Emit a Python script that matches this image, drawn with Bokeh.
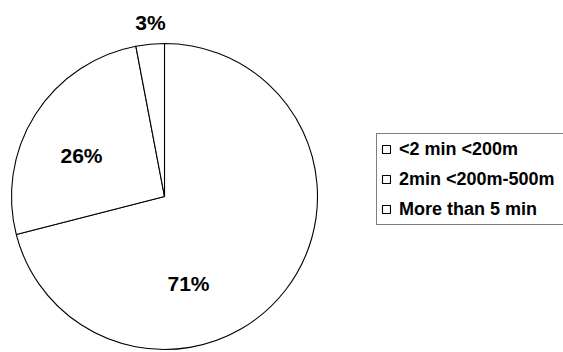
import numpy as np
from bokeh.plotting import figure
from bokeh.models import Range1d, Legend, LegendItem, ColumnDataSource
from bokeh.core.properties import value
from bokeh.embed import file_html
from bokeh.resources import INLINE

categories = ["<2 min <200m", "2min <200m-500m", "More than 5 min"]
shares = [71, 26, 3]
pct_labels = ["71%", "26%", "3%"]

W, H = 563, 352
p = figure(width=W, height=H, output_backend="svg", toolbar_location=None,
           x_range=Range1d(0, W), y_range=Range1d(0, H), min_border=0)
p.axis.visible = False
p.xgrid.visible = False
p.ygrid.visible = False
p.outline_line_color = None
p.background_fill_color = "white"

cx, cy, r = 164, H - 196, 153
vals = np.array(shares, dtype=float)
frac = vals / vals.sum()
cum = np.concatenate([[0], np.cumsum(frac)])
start = np.pi / 2 - cum[:-1] * 2 * np.pi
end = np.pi / 2 - cum[1:] * 2 * np.pi

renderers = []
for i in range(len(categories)):
    rr = p.wedge(x=cx, y=cy, radius=r, start_angle=start[i], end_angle=end[i],
                 direction="clock", fill_color="white", line_color="black", line_width=1.1)
    renderers.append(rr)

# label placement (layout offsets in pixels)
label_px = [(188, 283), (81, 155), (150, 22)]
src = ColumnDataSource(dict(x=[a for a, b in label_px], y=[H - b for a, b in label_px], t=pct_labels))
p.text(x="x", y="y", text="t", source=src, text_align="center", text_baseline="middle",
       text_font=value("Liberation Sans"), text_font_style="bold", text_font_size="21px",
       text_color="black")

legend = Legend(items=[LegendItem(label=categories[i], renderers=[renderers[i]]) for i in range(3)],
                location=(376, H - 135 - 90))
legend.glyph_width = 10
legend.glyph_height = 10
legend.label_height = 22
legend.label_width = 180
legend.spacing = 8
legend.padding = 4
legend.margin = 0
legend.label_standoff = 8
legend.label_text_font = "Liberation Sans"
legend.label_text_font_style = "bold"
legend.label_text_font_size = "18px"
legend.label_text_color = "black"
legend.border_line_color = "black"
legend.border_line_width = 1
legend.background_fill_alpha = 1
p.add_layout(legend)

open("out.html", "w").write(file_html(p, INLINE))
